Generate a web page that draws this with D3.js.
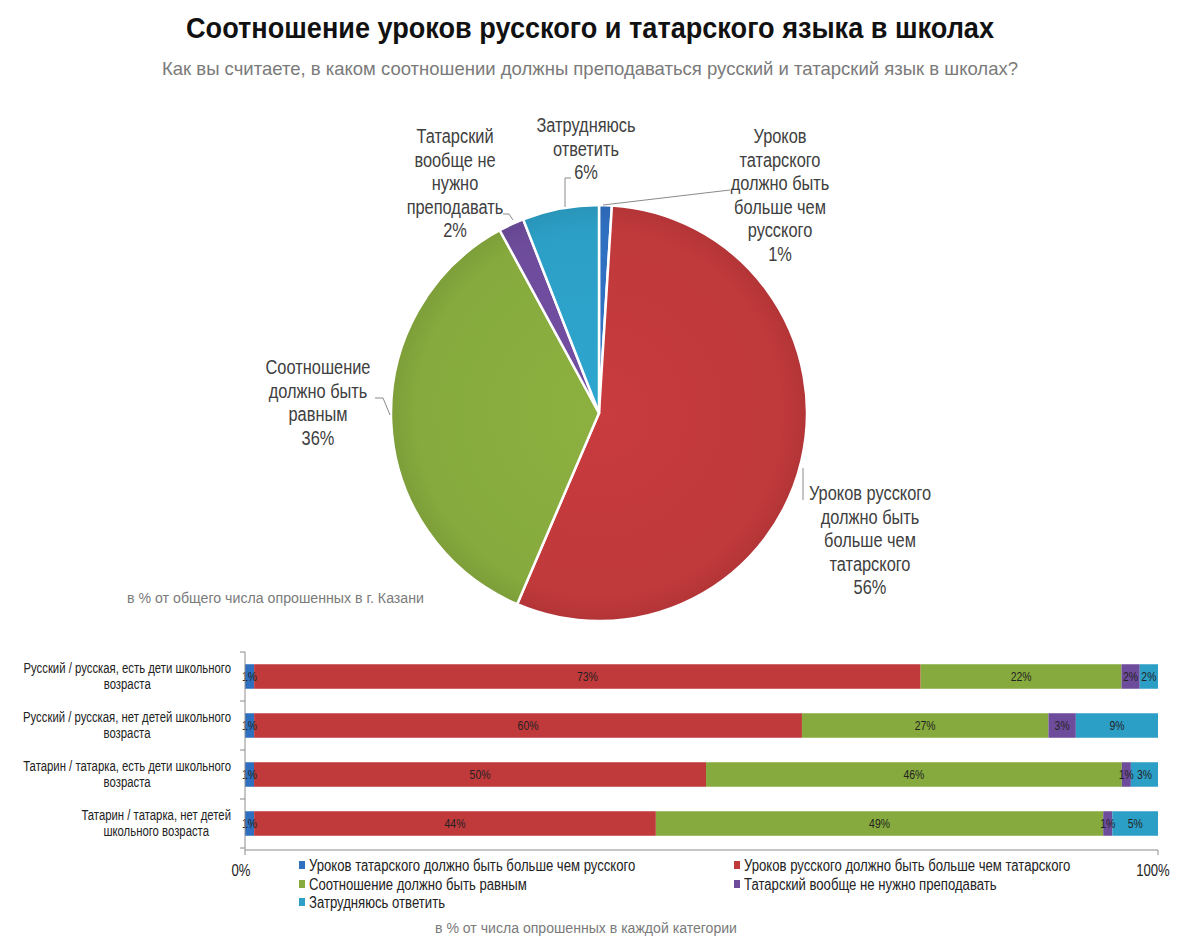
<!DOCTYPE html>
<html><head><meta charset="utf-8">
<script src="https://cdn.jsdelivr.net/npm/d3@7"></script>
<style>
body{margin:0;background:#fff;}
svg{display:block;}
text{font-family:"Liberation Sans",Arial,sans-serif;}
</style></head><body>
<script>
// ---------- DATA ----------
const pieCategories = [
  "Уроков татарского должно быть больше чем русского",
  "Уроков русского должно быть больше чем татарского",
  "Соотношение должно быть равным",
  "Татарский вообще не нужно преподавать",
  "Затрудняюсь ответить"
];
const pieValues = [1, 56, 36, 2, 6];
const pieLabelLines = [
  ["Уроков", "татарского", "должно быть", "больше чем", "русского"],
  ["Уроков русского", "должно быть", "больше чем", "татарского"],
  ["Соотношение", "должно быть", "равным"],
  ["Татарский", "вообще не", "нужно", "преподавать"],
  ["Затрудняюсь", "ответить"]
];
const groups = [
  ["Русский / русская, есть дети школьного", "возраста"],
  ["Русский / русская, нет детей школьного", "возраста"],
  ["Татарин / татарка, есть дети школьного", "возраста"],
  ["Татарин / татарка, нет детей", "школьного возраста"]
];
const seriesTatarMore = [1, 1, 1, 1];
const seriesRussianMore = [73, 60, 50, 44];
const seriesEqual = [22, 27, 46, 49];
const seriesNoTatar = [2, 3, 1, 1];
const seriesHard = [2, 9, 3, 5];
const xTickLabels = ["0%", "100%"];

const colors = ["#2f6fc0", "#c0393b", "#86aa3d", "#6e4c9c", "#2c9fc6"];

const W = 1200, H = 941;
const svg = d3.select("body").append("svg").attr("width", W).attr("height", H);

// text helper emulating a narrow face
function ntext(parent, x, y, str, size, opts = {}) {
  const t = parent.append("text").attr("x", x).attr("y", y)
    .attr("font-size", size).attr("fill", opts.fill || "#222")
    .attr("text-anchor", opts.anchor || "start")
    .attr("font-weight", opts.weight || "normal")
    .text(str);
  const len = t.node().getComputedTextLength();
  const nl = opts.width ? opts.width : len * (opts.factor || 0.82);
  t.attr("textLength", nl).attr("lengthAdjust", "spacingAndGlyphs");
  t.nlen = nl;
  return t;
}

// ---------- TITLES ----------
ntext(svg, 590, 38, "Соотношение уроков русского и татарского языка в школах", 29,
  {anchor: "middle", weight: "bold", fill: "#111", width: 808});
ntext(svg, 590, 75, "Как вы считаете,  в каком  соотношении  должны преподаваться русский  и татарский язык в школах?", 18.5,
  {anchor: "middle", fill: "#7a7a7a", width: 856});

// ---------- PIE ----------
const cx = 599, cy = 413, R = 208;
const pie = d3.pie().sort(null).value(d => d).startAngle(0).endAngle(2 * Math.PI);
const arcs = pie(pieValues);
const arc = d3.arc().innerRadius(0).outerRadius(R);
const gPie = svg.append("g").attr("transform", `translate(${cx},${cy})`);

const defs = svg.append("defs");
colors.forEach((c, i) => {
  const g = defs.append("radialGradient").attr("id", "pg" + i)
    .attr("gradientUnits", "userSpaceOnUse").attr("cx", 0).attr("cy", 0).attr("r", R);
  g.append("stop").attr("offset", "0%").attr("stop-color", d3.color(c).brighter(0.12));
  g.append("stop").attr("offset", "88%").attr("stop-color", c);
  g.append("stop").attr("offset", "100%").attr("stop-color", d3.color(c).darker(0.2));
});

gPie.selectAll("path").data(arcs).join("path")
  .attr("d", arc).attr("fill", (d, i) => `url(#pg${i})`)
  .attr("stroke", "#fff").attr("stroke-width", 2.5).attr("stroke-linejoin", "round");

// labels
const labelPos = [
  {x: 780, y: 143}, {x: 870, y: 500}, {x: 318, y: 374}, {x: 455, y: 143}, {x: 586, y: 132}
];
const lh = 23.6;
pieLabelLines.forEach((lines, i) => {
  const all = lines.concat([d3.format(".0f")(pieValues[i]) + "%"]);
  all.forEach((l, j) => {
    ntext(svg, labelPos[i].x, labelPos[i].y + j * lh, l, 19.5, {anchor: "middle", fill: "#404040", factor: 0.84});
  });
});

// leader lines (from slice edges to labels)
const leaders = [
  [[603, 205], [730, 190]],
  [[803, 468], [803, 500]],
  [[390, 415], [383, 398], [375, 398]],
  [[513, 220], [509, 214], [503, 214]],
  [[565, 207], [565, 178], [571, 178]]
];
leaders.forEach(pts => {
  svg.append("path").attr("d", d3.line()(pts)).attr("fill", "none")
    .attr("stroke", "#8a8a8a").attr("stroke-width", 1);
});

ntext(svg, 127, 603, "в % от общего числа опрошенных  в г. Казани", 14, {fill: "#7a7a7a", width: 297});

// ---------- STACKED BARS ----------
const keys = ["a", "b", "c", "d", "e"];
const rows = groups.map((g, i) => ({
  a: seriesTatarMore[i], b: seriesRussianMore[i], c: seriesEqual[i],
  d: seriesNoTatar[i], e: seriesHard[i]
}));
const stack = d3.stack().keys(keys).offset(d3.stackOffsetExpand);
const stacked = stack(rows);

const x = d3.scaleLinear().domain([0, 1]).range([245, 1158]);
const y = d3.scaleBand().domain(d3.range(groups.length)).range([652, 848]).paddingInner(0.5).paddingOuter(0.25);

const gBars = svg.append("g");
stacked.forEach((s, k) => {
  gBars.selectAll(null).data(s).join("rect")
    .attr("x", d => x(d[0])).attr("width", d => x(d[1]) - x(d[0]))
    .attr("y", (d, i) => y(i)).attr("height", y.bandwidth())
    .attr("fill", colors[k]);
});
stacked.forEach((s, k) => {
  s.forEach((d, i) => {
    ntext(gBars, (x(d[0]) + x(d[1])) / 2, y(i) + y.bandwidth() / 2 + 4.5,
      d.data[keys[k]] + "%", 13, {anchor: "middle", fill: "#222", factor: 0.8});
  });
});

// axes
const axisColor = "#8c8c8c";
svg.append("line").attr("x1", 245).attr("x2", 245).attr("y1", 652).attr("y2", 850).attr("stroke", axisColor);
svg.append("line").attr("x1", 245).attr("x2", 1158).attr("y1", 850).attr("y2", 850).attr("stroke", axisColor);
d3.range(groups.length + 1).forEach(i => {
  const yy = 652 + i * (196 / groups.length);
  svg.append("line").attr("x1", 240).attr("x2", 245).attr("y1", yy).attr("y2", yy).attr("stroke", axisColor);
});
[0, 1].forEach(v => {
  svg.append("line").attr("x1", x(v)).attr("x2", x(v)).attr("y1", 850).attr("y2", 855).attr("stroke", axisColor);
});
ntext(svg, x(0) - 4, 876, xTickLabels[0], 16, {anchor: "middle", fill: "#222"});
ntext(svg, x(1) - 5, 876, xTickLabels[1], 16, {anchor: "middle", fill: "#222"});

// category labels: centred block, right edge at 231
groups.forEach((lines, i) => {
  const yc = y(i) + y.bandwidth() / 2;
  const ts = lines.map((l, j) => ntext(svg, 0, yc - 3.5 + j * 16, l, 14, {anchor: "middle", fill: "#222", factor: 0.81}));
  const wmax = d3.max(ts, t => t.nlen);
  ts.forEach(t => t.attr("x", 231 - wmax / 2));
});

// legend
const legendPos = [
  {x: 299, y: 871}, {x: 734, y: 871}, {x: 299, y: 890}, {x: 734, y: 890}, {x: 299, y: 908}
];
pieCategories.forEach((c, i) => {
  const p = legendPos[i];
  svg.append("rect").attr("x", p.x).attr("y", p.y - 10).attr("width", 6).attr("height", 8).attr("fill", colors[i]);
  ntext(svg, p.x + 10, p.y, c, 16, {fill: "#222", factor: 0.82});
});

ntext(svg, 435, 933, "в % от числа опрошенных  в каждой категории", 14, {fill: "#7a7a7a", width: 302});
</script>
</body></html>
